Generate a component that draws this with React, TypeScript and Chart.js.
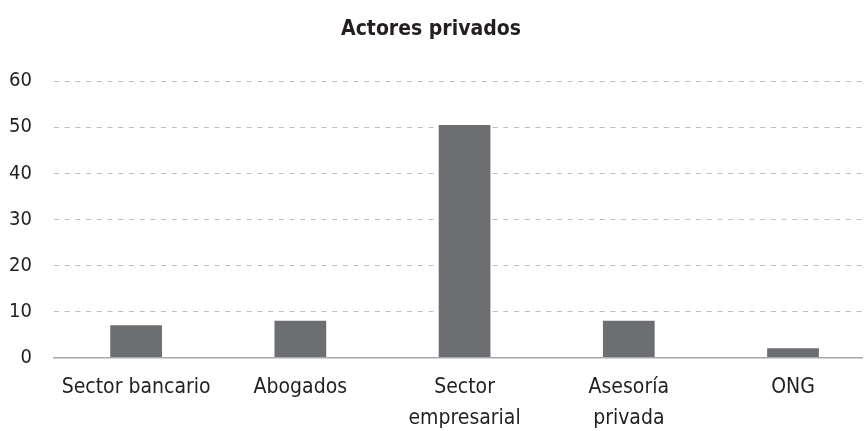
import React, { useEffect, useRef } from "react";
import { Chart, registerables } from "chart.js";

Chart.register(...registerables);

const title = "Actores privados";
const categories: (string | string[])[] = [
  "Sector bancario",
  "Abogados",
  ["Sector", "empresarial"],
  ["Asesoría", "privada"],
  "ONG",
];
const values = [7, 8, 50.5, 8, 2];
const yTicks = [0, 10, 20, 30, 40, 50, 60];

const FONT = "'Liberation Sans Narrow', 'DejaVu Sans Condensed', 'Arial Narrow', sans-serif";

export default function App() {
  const ref = useRef<HTMLCanvasElement>(null);
  useEffect(() => {
    if (!ref.current) return;
    const chart = new Chart(ref.current, {
      type: "bar",
      data: {
        datasets: [
          {
            data: values.map((v, i) => ({ x: i, y: v })),
            backgroundColor: "#6d6e71",
            borderWidth: 0,
            barPercentage: 0.315,
            categoryPercentage: 1,
          },
        ],
      },
      options: {
        animation: false,
        responsive: false,
        maintainAspectRatio: false,
        layout: { padding: { left: 0, right: 3, top: 0, bottom: 0 } },
        plugins: {
          legend: { display: false },
          tooltip: { enabled: false },
          title: {
            display: true,
            text: title,
            color: "#231f20",
            font: { family: FONT, size: 21, weight: "bold", lineHeight: 1.2 },
            padding: { top: 17, bottom: 39 },
          },
        },
        scales: {
          x: {
            type: "linear",
            offset: false,
            min: -0.5,
            max: 4.42,
            grid: { display: false, drawTicks: false },
            border: { display: true, color: "#a7a9ac", width: 1.5 },
            afterBuildTicks: (scale: any) => {
              scale.ticks = categories.map((_, i) => ({ value: i }));
            },
            afterFit: (scale: any) => {
              scale.height = 73.5;
            },
            ticks: {
              autoSkip: false,
              maxRotation: 0,
              minRotation: 0,
              padding: 14,
              color: "#231f20",
              font: { family: FONT, size: 21, lineHeight: 1.5 },
              callback: (v: any) => categories[v as number] ?? "",
            },
          },
          y: {
            min: 0,
            max: 60,
            afterBuildTicks: (scale: any) => {
              scale.ticks = yTicks.map((v) => ({ value: v }));
            },
            afterFit: (scale: any) => {
              scale.width = 54;
            },
            grid: {
              color: "#bcbec0",
              lineWidth: 1,
              drawTicks: false,
            },
            border: { display: false, dash: [5, 5.7] },
            ticks: {
              padding: 22,
              color: "#231f20",
              font: { family: FONT, size: 20 },
            },
          },
        },
      },
    });
    return () => chart.destroy();
  }, []);
  return (
    <div style={{ position: "absolute", left: 0, top: 0, width: 865, height: 431, background: "#fff" }}>
      <canvas ref={ref} width={865} height={431} style={{ width: 865, height: 431, display: "block" }} />
    </div>
  );
}
